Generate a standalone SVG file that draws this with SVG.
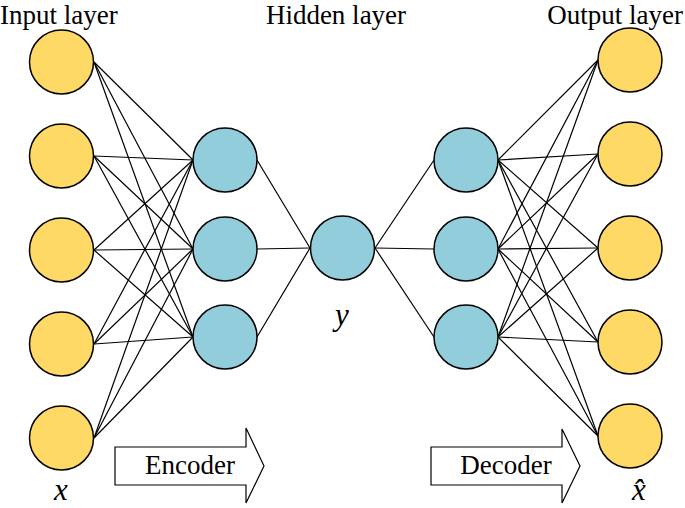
<svg xmlns="http://www.w3.org/2000/svg" width="685" height="508" viewBox="0 0 685 508">
<style>
.in{fill:#FFD966;stroke:#000;stroke-width:1.5}
.hd{fill:#92CDDC;stroke:#000;stroke-width:1.5}
.e line{stroke:#000;stroke-width:1.2}
.ar{fill:#fff;stroke:#000;stroke-width:1.2}
.t{font-family:'Liberation Serif','Times New Roman',serif;font-size:27px;fill:#000}
.v{font-family:'Liberation Serif','Times New Roman',serif;font-size:31px;font-style:italic;fill:#000}
</style>
<rect width="685" height="508" fill="#fff"/>
<g id="connectors" class="e">
<line x1="94" y1="62" x2="193" y2="160"/><line x1="94" y1="62" x2="193" y2="249"/><line x1="94" y1="62" x2="193" y2="337"/>
<line x1="94" y1="156" x2="193" y2="160"/><line x1="94" y1="156" x2="193" y2="249"/><line x1="94" y1="156" x2="193" y2="337"/>
<line x1="94" y1="250" x2="193" y2="160"/><line x1="94" y1="250" x2="193" y2="249"/><line x1="94" y1="250" x2="193" y2="337"/>
<line x1="94" y1="344" x2="193" y2="160"/><line x1="94" y1="344" x2="193" y2="249"/><line x1="94" y1="344" x2="193" y2="337"/>
<line x1="94" y1="438" x2="193" y2="160"/><line x1="94" y1="438" x2="193" y2="249"/><line x1="94" y1="438" x2="193" y2="337"/>
<line x1="257" y1="160" x2="310" y2="248"/><line x1="257" y1="249" x2="310" y2="248"/><line x1="257" y1="337" x2="310" y2="248"/>
<line x1="375" y1="248" x2="434" y2="160"/><line x1="375" y1="248" x2="434" y2="249"/><line x1="375" y1="248" x2="434" y2="337"/>
<line x1="498" y1="160" x2="598" y2="60"/><line x1="498" y1="160" x2="598" y2="154"/><line x1="498" y1="160" x2="598" y2="248"/><line x1="498" y1="160" x2="598" y2="342"/><line x1="498" y1="160" x2="598" y2="436"/>
<line x1="498" y1="249" x2="598" y2="60"/><line x1="498" y1="249" x2="598" y2="154"/><line x1="498" y1="249" x2="598" y2="248"/><line x1="498" y1="249" x2="598" y2="342"/><line x1="498" y1="249" x2="598" y2="436"/>
<line x1="498" y1="337" x2="598" y2="60"/><line x1="498" y1="337" x2="598" y2="154"/><line x1="498" y1="337" x2="598" y2="248"/><line x1="498" y1="337" x2="598" y2="342"/><line x1="498" y1="337" x2="598" y2="436"/>
</g>
<g id="input-layer">
<circle id="in1" class="in" cx="61.5" cy="62" r="32"/>
<circle id="in2" class="in" cx="61.5" cy="156" r="32"/>
<circle id="in3" class="in" cx="61.5" cy="250" r="32"/>
<circle id="in4" class="in" cx="61.5" cy="344" r="32"/>
<circle id="in5" class="in" cx="61.5" cy="438" r="32"/>
</g>
<g id="encoder-hidden">
<circle id="eh1" class="hd" cx="225" cy="160" r="32"/>
<circle id="eh2" class="hd" cx="225" cy="249" r="32"/>
<circle id="eh3" class="hd" cx="225" cy="337" r="32"/>
</g>
<g id="code"><circle class="hd" cx="342.5" cy="248" r="32"/></g>
<g id="decoder-hidden">
<circle id="dh1" class="hd" cx="466" cy="160" r="32"/>
<circle id="dh2" class="hd" cx="466" cy="249" r="32"/>
<circle id="dh3" class="hd" cx="466" cy="337" r="32"/>
</g>
<g id="output-layer">
<circle id="out1" class="in" cx="630" cy="60" r="32"/>
<circle id="out2" class="in" cx="630" cy="154" r="32"/>
<circle id="out3" class="in" cx="630" cy="248" r="32"/>
<circle id="out4" class="in" cx="630" cy="342" r="32"/>
<circle id="out5" class="in" cx="630" cy="436" r="32"/>
</g>
<g id="encoder-arrow">
<polygon class="ar" points="115,447 246,447 246,428 264,466 246,503 246,485 115,485"/>
<text class="t" x="190" y="474" text-anchor="middle">Encoder</text>
</g>
<g id="decoder-arrow">
<polygon class="ar" points="431,447 562,447 562,429 580,466 562,503 562,485 431,485"/>
<text class="t" x="506" y="474" text-anchor="middle">Decoder</text>
</g>
<g id="labels">
<text class="t" x="0" y="24">Input layer</text>
<text class="t" x="336" y="24" text-anchor="middle">Hidden layer</text>
<text class="t" x="683" y="24" text-anchor="end">Output layer</text>
</g>
<g id="vars">
<text class="v" x="61" y="500" text-anchor="middle">x</text>
<text class="v" x="342" y="325" text-anchor="middle">y</text>
<text class="v" x="639" y="500" text-anchor="middle">x̂</text>
</g>
</svg>
